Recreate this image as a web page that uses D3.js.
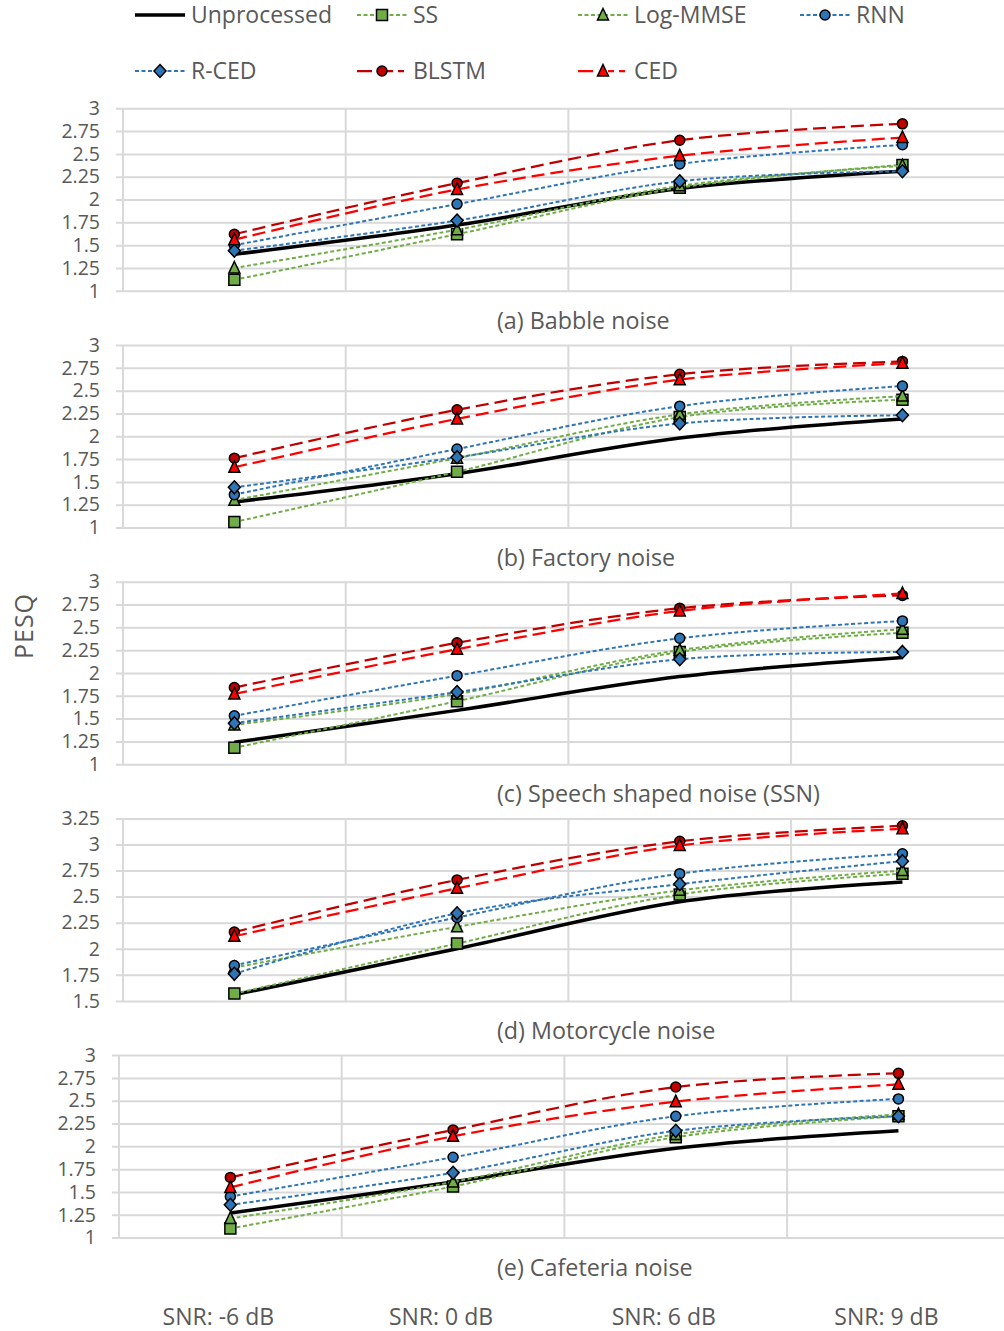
<!DOCTYPE html>
<meta charset="utf-8">
<style>
body { margin: 0; background: #fff; }
text { font-family: "Open Sans", sans-serif; fill: #595959; }
.grid line { stroke: #d9d9d9; stroke-width: 2; }
.grid .domain { display: none; }
.grid text { font-size: 19.5px; }
</style>
<body>
<script src="https://cdn.jsdelivr.net/npm/d3@7"></script>
<script>

var categories = ["SNR: -6 dB", "SNR: 0 dB", "SNR: 6 dB", "SNR: 9 dB"];
var seriesNames = ["Unprocessed", "SS", "Log-MMSE", "RNN", "R-CED", "BLSTM", "CED"];
var panelTitles = ["(a) Babble noise", "(b) Factory noise", "(c) Speech shaped noise (SSN)",
                   "(d) Motorcycle noise", "(e) Cafeteria noise"];
var ticksLow = [1, 1.25, 1.5, 1.75, 2, 2.25, 2.5, 2.75, 3];
var ticksHigh = [1.5, 1.75, 2, 2.25, 2.5, 2.75, 3, 3.25];

// one row per series, in seriesNames order
var babble = [
    [1.40, 1.72, 2.12, 2.31],
    [1.12, 1.62, 2.13, 2.38],
    [1.25, 1.67, 2.15, 2.37],
    [1.50, 1.95, 2.39, 2.60],
    [1.44, 1.77, 2.20, 2.31],
    [1.62, 2.18, 2.65, 2.83],
    [1.56, 2.11, 2.48, 2.68]
];
var factory = [
    [1.28, 1.59, 1.98, 2.19],
    [1.06, 1.61, 2.21, 2.40],
    [1.30, 1.76, 2.24, 2.44],
    [1.36, 1.86, 2.33, 2.55],
    [1.44, 1.77, 2.14, 2.23],
    [1.76, 2.29, 2.68, 2.82],
    [1.66, 2.19, 2.62, 2.80]
];
var ssn = [
    [1.24, 1.59, 1.96, 2.17],
    [1.18, 1.69, 2.23, 2.44],
    [1.43, 1.77, 2.25, 2.48],
    [1.53, 1.97, 2.38, 2.57],
    [1.45, 1.79, 2.15, 2.23],
    [1.84, 2.33, 2.71, 2.85],
    [1.77, 2.26, 2.68, 2.87]
];
var motorcycle = [
    [1.56, 2.00, 2.45, 2.64],
    [1.57, 2.05, 2.52, 2.72],
    [1.82, 2.21, 2.56, 2.75],
    [1.84, 2.30, 2.72, 2.91],
    [1.76, 2.34, 2.62, 2.84],
    [2.16, 2.66, 3.03, 3.18],
    [2.12, 2.58, 2.99, 3.15]
];
var cafeteria = [
    [1.27, 1.61, 1.98, 2.17],
    [1.10, 1.56, 2.10, 2.33],
    [1.21, 1.61, 2.13, 2.35],
    [1.45, 1.88, 2.33, 2.52],
    [1.36, 1.71, 2.17, 2.33],
    [1.66, 2.18, 2.65, 2.80],
    [1.55, 2.11, 2.49, 2.68]
];

var panels = [
    {title: panelTitles[0], data: babble, ticks: ticksLow},
    {title: panelTitles[1], data: factory, ticks: ticksLow},
    {title: panelTitles[2], data: ssn, ticks: ticksLow},
    {title: panelTitles[3], data: motorcycle, ticks: ticksHigh},
    {title: panelTitles[4], data: cafeteria, ticks: ticksLow}
];

var styles = [
    {color: "#000000", width: 3.5, dash: null, marker: null, fill: null},
    {color: "#70AD47", width: 2, dash: "4,2.5", marker: "square", fill: "#70AD47"},
    {color: "#70AD47", width: 2, dash: "4,2.5", marker: "triangle", fill: "#70AD47"},
    {color: "#2E75B6", width: 2, dash: "4,2.5", marker: "circle", fill: "#2E75B6"},
    {color: "#2E75B6", width: 2, dash: "4,2.5", marker: "diamond", fill: "#2E75B6"},
    {color: "#C00000", width: 2.25, dash: "13,6", marker: "circle", fill: "#C00000"},
    {color: "#FF0000", width: 2.25, dash: "13,6", marker: "triangle", fill: "#FF0000"}
];

var W = 1004, H = 1331;

var svg = d3.select("body").append("svg")
    .attr("width", W)
    .attr("height", H);

function markerPath(type) {
    if (type == "square") return "M-5.5,-5.5H5.5V5.5H-5.5Z";
    if (type == "triangle") return "M0,-6.5L5.5,5L-5.5,5Z";
    if (type == "diamond") return "M0,-6.5L6,0L0,6.5L-6,0Z";
    return "M5,0A5,5 0 1,1 -5,0A5,5 0 1,1 5,0Z";
}

function drawMarker(sel, st, cx, cy) {
    sel.append("path")
        .attr("d", markerPath(st.marker))
        .attr("transform", "translate(" + cx + "," + cy + ")")
        .attr("fill", st.fill)
        .attr("stroke", "#000")
        .attr("stroke-width", 1.5);
}

var band = 222.7,
    plotHeight = 182.5,
    lastX;

panels.forEach(function(p, i) {
    var top = 108.3 + i * 236.7,
        bottom = top + plotHeight,
        left = i == 4 ? 119 : 123;

    var x = d3.scaleBand()
        .domain(categories)
        .range([left, left + 4 * band]);

    var y = d3.scaleLinear()
        .domain(d3.extent(p.ticks))
        .range([bottom, top]);

    if (i == 4) lastX = x;

    var g = svg.append("g");

    g.append("g")
        .attr("class", "grid")
        .attr("transform", "translate(" + (left - 7) + ",0)")
        .call(d3.axisLeft(y)
            .tickValues(p.ticks)
            .tickFormat(function(d) { return d; })
            .tickSizeInner(-(W - left + 20))
            .tickSizeOuter(0)
            .tickPadding(16));

    categories.forEach(function(c, j) {
        g.append("line")
            .attr("x1", x(c)).attr("x2", x(c))
            .attr("y1", top).attr("y2", bottom)
            .attr("stroke", "#d9d9d9")
            .attr("stroke-width", 2);
    });

    var line = d3.line()
        .x(function(d, j) { return x(categories[j]) + x.bandwidth() / 2; })
        .y(function(d) { return y(d); })
        .curve(d3.curveCardinal.tension(0));

    p.data.forEach(function(values, s) {
        var st = styles[s];
        g.append("path")
            .attr("d", line(values))
            .attr("fill", "none")
            .attr("stroke", st.color)
            .attr("stroke-width", st.width)
            .attr("stroke-dasharray", st.dash);
        if (st.marker) {
            values.forEach(function(v, j) {
                drawMarker(g, st, x(categories[j]) + x.bandwidth() / 2, y(v));
            });
        }
    });

    g.append("text")
        .attr("x", 497)
        .attr("y", bottom + 38)
        .style("font-size", "23.3px")
        .text(p.title);
});

svg.selectAll(".cat")
    .data(categories)
  .enter().append("text")
    .attr("class", "cat")
    .attr("x", function(d) { return lastX(d) + band / 2 - 12; })
    .attr("y", 1325)
    .attr("text-anchor", "middle")
    .style("font-size", "23px")
    .text(function(d) { return d; });

svg.append("text")
    .attr("transform", "translate(33,626) rotate(-90)")
    .attr("text-anchor", "middle")
    .style("font-size", "25px")
    .style("letter-spacing", "1px")
    .text("PESQ");

// legend
var legendCols = [135, 357, 578, 800],
    legendRows = [15, 71];

seriesNames.forEach(function(name, s) {
    var st = styles[s],
        lx = legendCols[s < 4 ? s : s - 4],
        ly = legendRows[s < 4 ? 0 : 1];
    var lg = svg.append("g");
    lg.append("line")
        .attr("x1", lx).attr("x2", lx + 50)
        .attr("y1", ly).attr("y2", ly)
        .attr("stroke", st.color)
        .attr("stroke-width", st.width)
        .attr("stroke-dasharray", st.dash ? (s >= 5 ? "15,15,6,5,6,10" : st.dash) : null);
    if (st.marker) drawMarker(lg, st, lx + 25, ly);
    lg.append("text")
        .attr("x", lx + 56)
        .attr("y", ly + 8)
        .style("font-size", "23px")
        .text(name);
});
</script>
